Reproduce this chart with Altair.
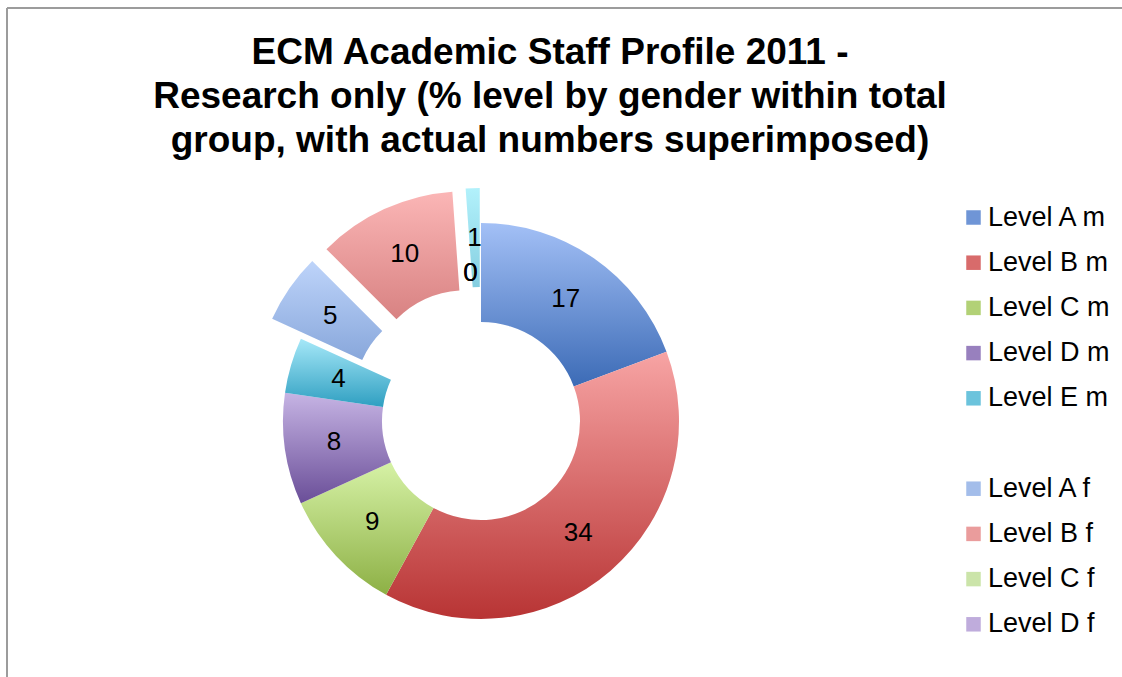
import math
import altair as alt
import pandas as pd

# ---- data ----
levels = ["Level A m", "Level B m", "Level C m", "Level D m", "Level E m",
          "Level A f", "Level B f", "Level C f", "Level D f", "Level E f"]
counts = [17, 34, 9, 8, 4, 5, 10, 0, 0, 1]
exploded = ["Level A f", "Level B f", "Level E f"]

# legend entries shown in the reference (a blank gap between m and f; list is cut after D f)
legend_domain = ["Level A m", "Level B m", "Level C m", "Level D m", "Level E m", " ",
                 "Level A f", "Level B f", "Level C f", "Level D f"]

# ---- styles ----
grad_top = ["#a3c0f6", "#f7a4a4", "#d6f2a6", "#c6b4e4", "#a6e8f8",
            "#bed4fa", "#fbb6b6", "#e2f6c6", "#d9caf1", "#b2f1fb"]
grad_bottom = ["#3c6bb6", "#b83434", "#8db045", "#6a4e98", "#2f9fc1",
               "#88a7db", "#d88282", "#b3d38c", "#a48fc8", "#84cee0"]
legend_colors = ["#6f95d6", "#d86b6b", "#b2d176", "#9880be", "#6bc3dc", "#ffffff",
                 "#a3bdea", "#ea9c9c", "#cbe4a9", "#bfacdc"]

FONT = "Liberation Sans"
R_OUT, R_IN, EXPLODE = 198, 99, 35

df = pd.DataFrame({"idx": list(range(len(levels))), "level": levels, "count": counts})
total = sum(counts)

base = alt.Chart(df).transform_joinaggregate(
    total="sum(count)"
).transform_window(
    cum="sum(count)", sort=[alt.SortField("idx")], frame=[None, 0]
).transform_calculate(
    fs="(datum.cum - datum.count) / datum.total",
    fe="datum.cum / datum.total",
    fm="(datum.cum - datum.count / 2) / datum.total",
)

theta_scale = alt.Scale(domain=[0, 1], range=[0, 2 * math.pi])

layers = []
cum = 0
for i, lvl in enumerate(levels):
    mid = (cum + counts[i] / 2) / total * 2 * math.pi
    cum += counts[i]
    off = EXPLODE if lvl in exploded else 0
    dx = off * math.sin(mid)
    dy = -off * math.cos(mid)
    grad = alt.LinearGradient(
        gradient="linear",
        stops=[alt.GradientStop(color=grad_top[i], offset=0),
               alt.GradientStop(color=grad_bottom[i], offset=1)],
        x1=0, x2=0, y1=0, y2=1,
    )
    sub = base.transform_filter(alt.datum.level == lvl)
    arc = sub.mark_arc(innerRadius=R_IN, outerRadius=R_OUT, fill=grad, strokeWidth=0,
                       xOffset=dx, yOffset=dy).encode(
        theta=alt.Theta("fs:Q", scale=theta_scale),
        theta2="fe:Q",
    )
    layers.append(arc)

cum = 0
for i, lvl in enumerate(levels):
    mid = (cum + counts[i] / 2) / total * 2 * math.pi
    cum += counts[i]
    off = EXPLODE if lvl in exploded else 0
    dx = off * math.sin(mid)
    dy = -off * math.cos(mid)
    sub = base.transform_filter(alt.datum.level == lvl)
    txt = sub.mark_text(radius=(R_OUT + R_IN) / 2, fontSize=26, font=FONT, color="black",
                        align="center", baseline="middle", xOffset=dx, yOffset=dy).encode(
        theta=alt.Theta("fm:Q", scale=theta_scale),
        text="count:Q",
    )
    layers.append(txt)

# invisible layer that carries the legend
legend_layer = base.mark_arc(opacity=0, innerRadius=R_IN, outerRadius=R_OUT).encode(
    theta=alt.Theta("fs:Q", scale=theta_scale),
    theta2="fe:Q",
    color=alt.Color(
        "level:N",
        scale=alt.Scale(domain=legend_domain, range=legend_colors),
        legend=alt.Legend(
            title=None, orient="none", legendX=960, legendY=4,
            symbolType="square", symbolSize=210, symbolOpacity=1, symbolStrokeWidth=0,
            labelFontSize=27, labelFont=FONT, labelColor="black", labelOffset=1,
            rowPadding=17.2, padding=0, labelLimit=300,
        ),
    ),
)
layers.append(legend_layer)

# frame of the chart area (top and left edges)
frame_df = pd.DataFrame({"a": [0]})
top_line = alt.Chart(frame_df).mark_rule(color="#9c9c9c", strokeWidth=2).encode(
    x=alt.value(7), x2=alt.value(1122), y=alt.value(-192))
left_line = alt.Chart(frame_df).mark_rule(color="#9c9c9c", strokeWidth=2).encode(
    x=alt.value(7), y=alt.value(-192), y2=alt.value(477))

chart = alt.layer(top_line, left_line, *layers).properties(
    width=962,
    height=442,
    background="white",
    padding={"left": 0, "top": 200, "right": 160, "bottom": 35},
    autosize=alt.AutoSizeParams(type="none"),
    title=alt.TitleParams(
        text=["ECM Academic Staff Profile 2011 -",
              "Research only (% level by gender within total",
              "group, with actual numbers superimposed)"],
        fontSize=37, font=FONT, fontWeight="bold", color="black",
        anchor="middle", dx=69, offset=-153, lineHeight=44,
    ),
).configure_view(strokeWidth=0)

chart.save("out.html", embed_options={"renderer": "svg", "actions": False})
